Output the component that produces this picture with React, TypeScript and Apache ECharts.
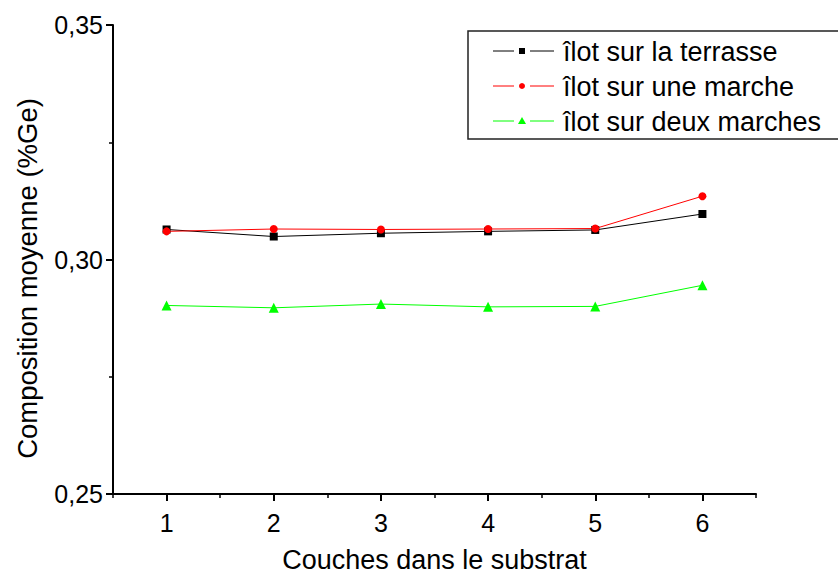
import React, { useEffect, useRef } from "react";
import * as echarts from "echarts";

const couches = [1, 2, 3, 4, 5, 6];
const terrasse = [0.3064, 0.3049, 0.3056, 0.306, 0.3063, 0.3097];
const uneMarche = [0.306, 0.3065, 0.3064, 0.3065, 0.3066, 0.3135];
const deuxMarches = [0.2902, 0.2897, 0.2905, 0.2899, 0.29, 0.2945];
const seriesNames = ["îlot sur la terrasse", "îlot sur une marche", "îlot sur deux marches"];
const seriesColors = ["#000000", "#ff0000", "#00ff00"];
const seriesSymbols = ["rect", "circle", "triangle"];
const seriesData = [terrasse, uneMarche, deuxMarches];
const yTicks = [0.25, 0.3, 0.35];

const FONT = "Liberation Sans, Arial, sans-serif";

export default function App() {
  const ref = useRef<HTMLDivElement>(null);
  useEffect(() => {
    if (!ref.current) return;
    const chart = echarts.init(ref.current, null, { renderer: "svg" });
    const legendX = 468;
    const legendY = 31;
    const rowH = 35;
    const graphics: any[] = [
      {
        type: "rect",
        shape: { x: legendX, y: legendY, width: 380, height: 108 },
        style: { fill: "#fff", stroke: "#222", lineWidth: 1.5 },
        z: 10,
      },
    ];
    seriesNames.forEach((name, i) => {
      const cy = legendY + 20 + i * rowH;
      const c = seriesColors[i];
      graphics.push(
        { type: "line", shape: { x1: 493, y1: cy, x2: 514, y2: cy }, style: { stroke: c, lineWidth: 1 }, z: 11 },
        { type: "line", shape: { x1: 530, y1: cy, x2: 554, y2: cy }, style: { stroke: c, lineWidth: 1 }, z: 11 }
      );
      if (seriesSymbols[i] === "rect") {
        graphics.push({ type: "rect", shape: { x: 519, y: cy - 3, width: 6, height: 6 }, style: { fill: c }, z: 11 });
      } else if (seriesSymbols[i] === "circle") {
        graphics.push({ type: "circle", shape: { cx: 522, cy, r: 3 }, style: { fill: c }, z: 11 });
      } else {
        graphics.push({
          type: "polygon",
          shape: { points: [[522, cy - 4], [526, cy + 3], [518, cy + 3]] },
          style: { fill: c },
          z: 11,
        });
      }
      graphics.push({
        type: "text",
        x: 563,
        y: cy + 1,
        style: { text: name, fill: "#000", font: `27px ${FONT}`, textVerticalAlign: "middle" },
        z: 11,
      });
    });

    chart.setOption({
      animation: false,
      grid: { left: 113, top: 25, right: 82, bottom: 80, containLabel: false, outerBoundsMode: "none" },
      xAxis: [
        {
          type: "value",
          min: 0.5,
          max: 6.5,
          name: "Couches dans le substrat",
          nameLocation: "middle",
          nameGap: 52,
          nameTextStyle: { fontFamily: FONT, fontSize: 27, color: "#000" },
          axisLine: { show: true, lineStyle: { color: "#000", width: 2 } },
          axisTick: { show: true, customValues: couches, length: 7, lineStyle: { color: "#000", width: 2 } },
          axisLabel: {
            customValues: couches,
            fontFamily: FONT,
            fontSize: 25,
            color: "#000",
            margin: 16,
          },
          splitLine: { show: false },
        },
        {
          type: "value",
          position: "bottom",
          min: 0.5,
          max: 6.5,
          interval: 0.5,
          axisLine: { show: false },
          axisTick: { show: true, length: 4, lineStyle: { color: "#000", width: 1.5 } },
          axisLabel: { show: false },
          splitLine: { show: false },
        },
      ],
      yAxis: {
        type: "value",
        min: yTicks[0],
        max: yTicks[yTicks.length - 1],
        interval: 0.05,
        name: "Composition moyenne (%Ge)",
        nameLocation: "middle",
        nameGap: 72,
        nameTextStyle: { fontFamily: FONT, fontSize: 27.5, color: "#000", padding: [0, 38, 0, 0] },
        axisLine: { show: true, lineStyle: { color: "#000", width: 2 } },
        axisTick: { show: true, length: 7, lineStyle: { color: "#000", width: 2 } },
        minorTick: { show: true, splitNumber: 2, length: 4, lineStyle: { color: "#000", width: 1.5 } },
        axisLabel: {
          fontFamily: FONT,
          fontSize: 25,
          color: "#000",
          margin: 10,
          formatter: (v: number) => v.toFixed(2).replace(".", ","),
        },
        splitLine: { show: false },
      },
      series: seriesData.map((d, i) => ({
        name: seriesNames[i],
        type: "line",
        xAxisIndex: 0,
        data: couches.map((x, j) => [x, d[j]]),
        symbol: seriesSymbols[i],
        symbolSize: seriesSymbols[i] === "triangle" ? 10 : 8,
        showSymbol: true,
        itemStyle: { color: seriesColors[i] },
        lineStyle: { color: seriesColors[i], width: 1 },
      })),
      graphic: graphics,
    });
    return () => chart.dispose();
  }, []);
  return (
    <div
      ref={ref}
      style={{ position: "absolute", left: 0, top: 0, width: 838, height: 574 }}
    />
  );
}
